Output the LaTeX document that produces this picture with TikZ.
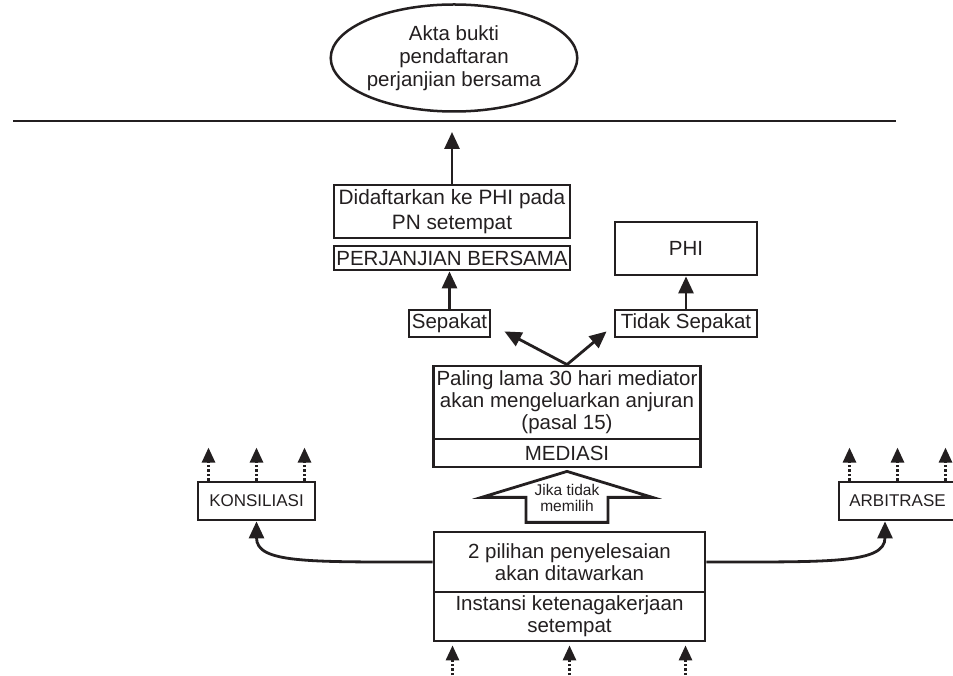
\documentclass[tikz,border=0pt]{standalone}
\usepackage{fontspec}
\setmainfont{Liberation Sans}
\usetikzlibrary{arrows.meta, shapes.geometric}
\definecolor{ink}{RGB}{35,31,32}

\begin{document}
\begin{tikzpicture}[x=1pt, y=1pt, node distance=50pt,
  box/.style={rectangle, draw=ink, line width=2.8pt, text=ink, inner sep=0pt, align=center, font=\fontsize{20.5}{22}\selectfont},
  bubble/.style={ellipse, draw=ink, line width=2.5pt, text=ink, inner sep=0pt, align=center, font=\fontsize{20.5}{23}\selectfont},
  arr/.style={draw=ink, line width=2.8pt, -{Triangle[length=17pt, width=15pt]}},
  dotarr/.style={draw=ink, line width=2.8pt, dash pattern=on 2.5pt off 2pt, -{Triangle[length=15pt, width=13pt]}},
  hollow/.style={draw=ink, line width=2.8pt, fill=white, line join=miter}]

  \useasboundingbox (0,0) rectangle (953,675);

  % top
  \node[bubble, minimum width=225pt, minimum height=107pt] (akta) at (454,617) {Akta bukti\\pendaftaran\\perjanjian bersama};
  \coordinate (lineL) at (13,554);
  \coordinate (lineR) at (896,554);
  \draw[draw=ink, line width=2.8pt] (lineL) -- (lineR);

  \node[box, minimum width=236pt, minimum height=53pt, font=\fontsize{20.8}{25}\selectfont] (didaftar) at (452,463.5) {Didaftarkan ke PHI pada\\PN setempat};
  \node[box, below of=didaftar, node distance=46.5pt, minimum width=236pt, minimum height=24pt] (perjanjian) {PERJANJIAN BERSAMA};
  \node[box, minimum width=81pt, minimum height=27pt] (sepakat) at (449.5,351.5) {Sepakat};
  \node[box, minimum width=142pt, minimum height=53pt] (phi) at (686,426.5) {PHI};
  \node[box, below of=phi, node distance=75pt, minimum width=142pt, minimum height=27pt] (tidak) {Tidak Sepakat};

  % mediasi
  \node[box, minimum width=267pt, minimum height=73pt] (anjuran) at (567,272.5) {Paling lama 30 hari mediator\\akan mengeluarkan anjuran\\(pasal 15)};
  \node[box, below of=anjuran, node distance=50.5pt, minimum width=267pt, minimum height=28pt] (mediasi) {MEDIASI};

  % bottom
  \node[box, minimum width=271pt, minimum height=60pt] (pilihan) at (569.5,113) {2 pilihan penyelesaian\\akan ditawarkan};
  \node[box, below of=pilihan, node distance=54.5pt, minimum width=271pt, minimum height=49pt] (instansi) {Instansi ketenagakerjaan\\setempat};
  \node[box, minimum width=117pt, minimum height=38pt, font=\fontsize{17}{19}\selectfont] (kons) at (256.5,174) {KONSILIASI};
  \node[box, minimum width=117pt, minimum height=38pt, font=\fontsize{17}{19}\selectfont] (arb) at (897.5,174) {ARBITRASE};

  \node[coordinate, below of=instansi, node distance=58.5pt] (src) {};
  \node[coordinate, left of=src, node distance=117pt] (srcL) {};
  \node[coordinate, right of=src, node distance=116pt] (srcR) {};

  \draw[arr, shorten >=11pt] (didaftar.north) -- (didaftar.north |- lineL);
  \draw[arr] (sepakat.north) -- (sepakat.north |- perjanjian.south);
  \draw[arr] (tidak.north) -- (phi.south);
  \draw[arr] (anjuran.north) -- ([xshift=13pt, yshift=7pt]sepakat.south east);
  \draw[arr] (anjuran.north) -- ([xshift=-7pt, yshift=7pt]tidak.south west);

  \draw[hollow] ([yshift=-3pt]mediasi.south) -- ++(-85.5,-26) -- ++(44.5,0) -- ++(0,-25) -- ++(82,0) -- ++(0,25) -- ++(44.5,0) -- cycle;
  \node[text=ink, align=center, font=\fontsize{15.5}{16.5}\selectfont] (jika) at (567,177) {Jika tidak\\memilih};

  \draw[arr] (pilihan.west) .. controls +(-125,0) and +(0,-42) .. (kons.south);
  \draw[arr] (pilihan.east) .. controls +(125,0) and +(0,-42) .. ([xshift=-12.5pt]arb.south);

  \draw[dotarr] ([xshift=-48pt]kons.north) -- ++(0,33);
  \draw[dotarr] (kons.north) -- ++(0,33);
  \draw[dotarr] ([xshift=48pt]kons.north) -- ++(0,33);
  \draw[dotarr] ([xshift=-48pt]arb.north) -- ++(0,33);
  \draw[dotarr] (arb.north) -- ++(0,33);
  \draw[dotarr] ([xshift=48pt]arb.north) -- ++(0,33);

  \draw[dotarr, shorten >=3pt] (srcL) -- (srcL |- instansi.south);
  \draw[dotarr, shorten >=3pt] (src) -- (src |- instansi.south);
  \draw[dotarr, shorten >=3pt] (srcR) -- (srcR |- instansi.south);
\end{tikzpicture}
\end{document}
